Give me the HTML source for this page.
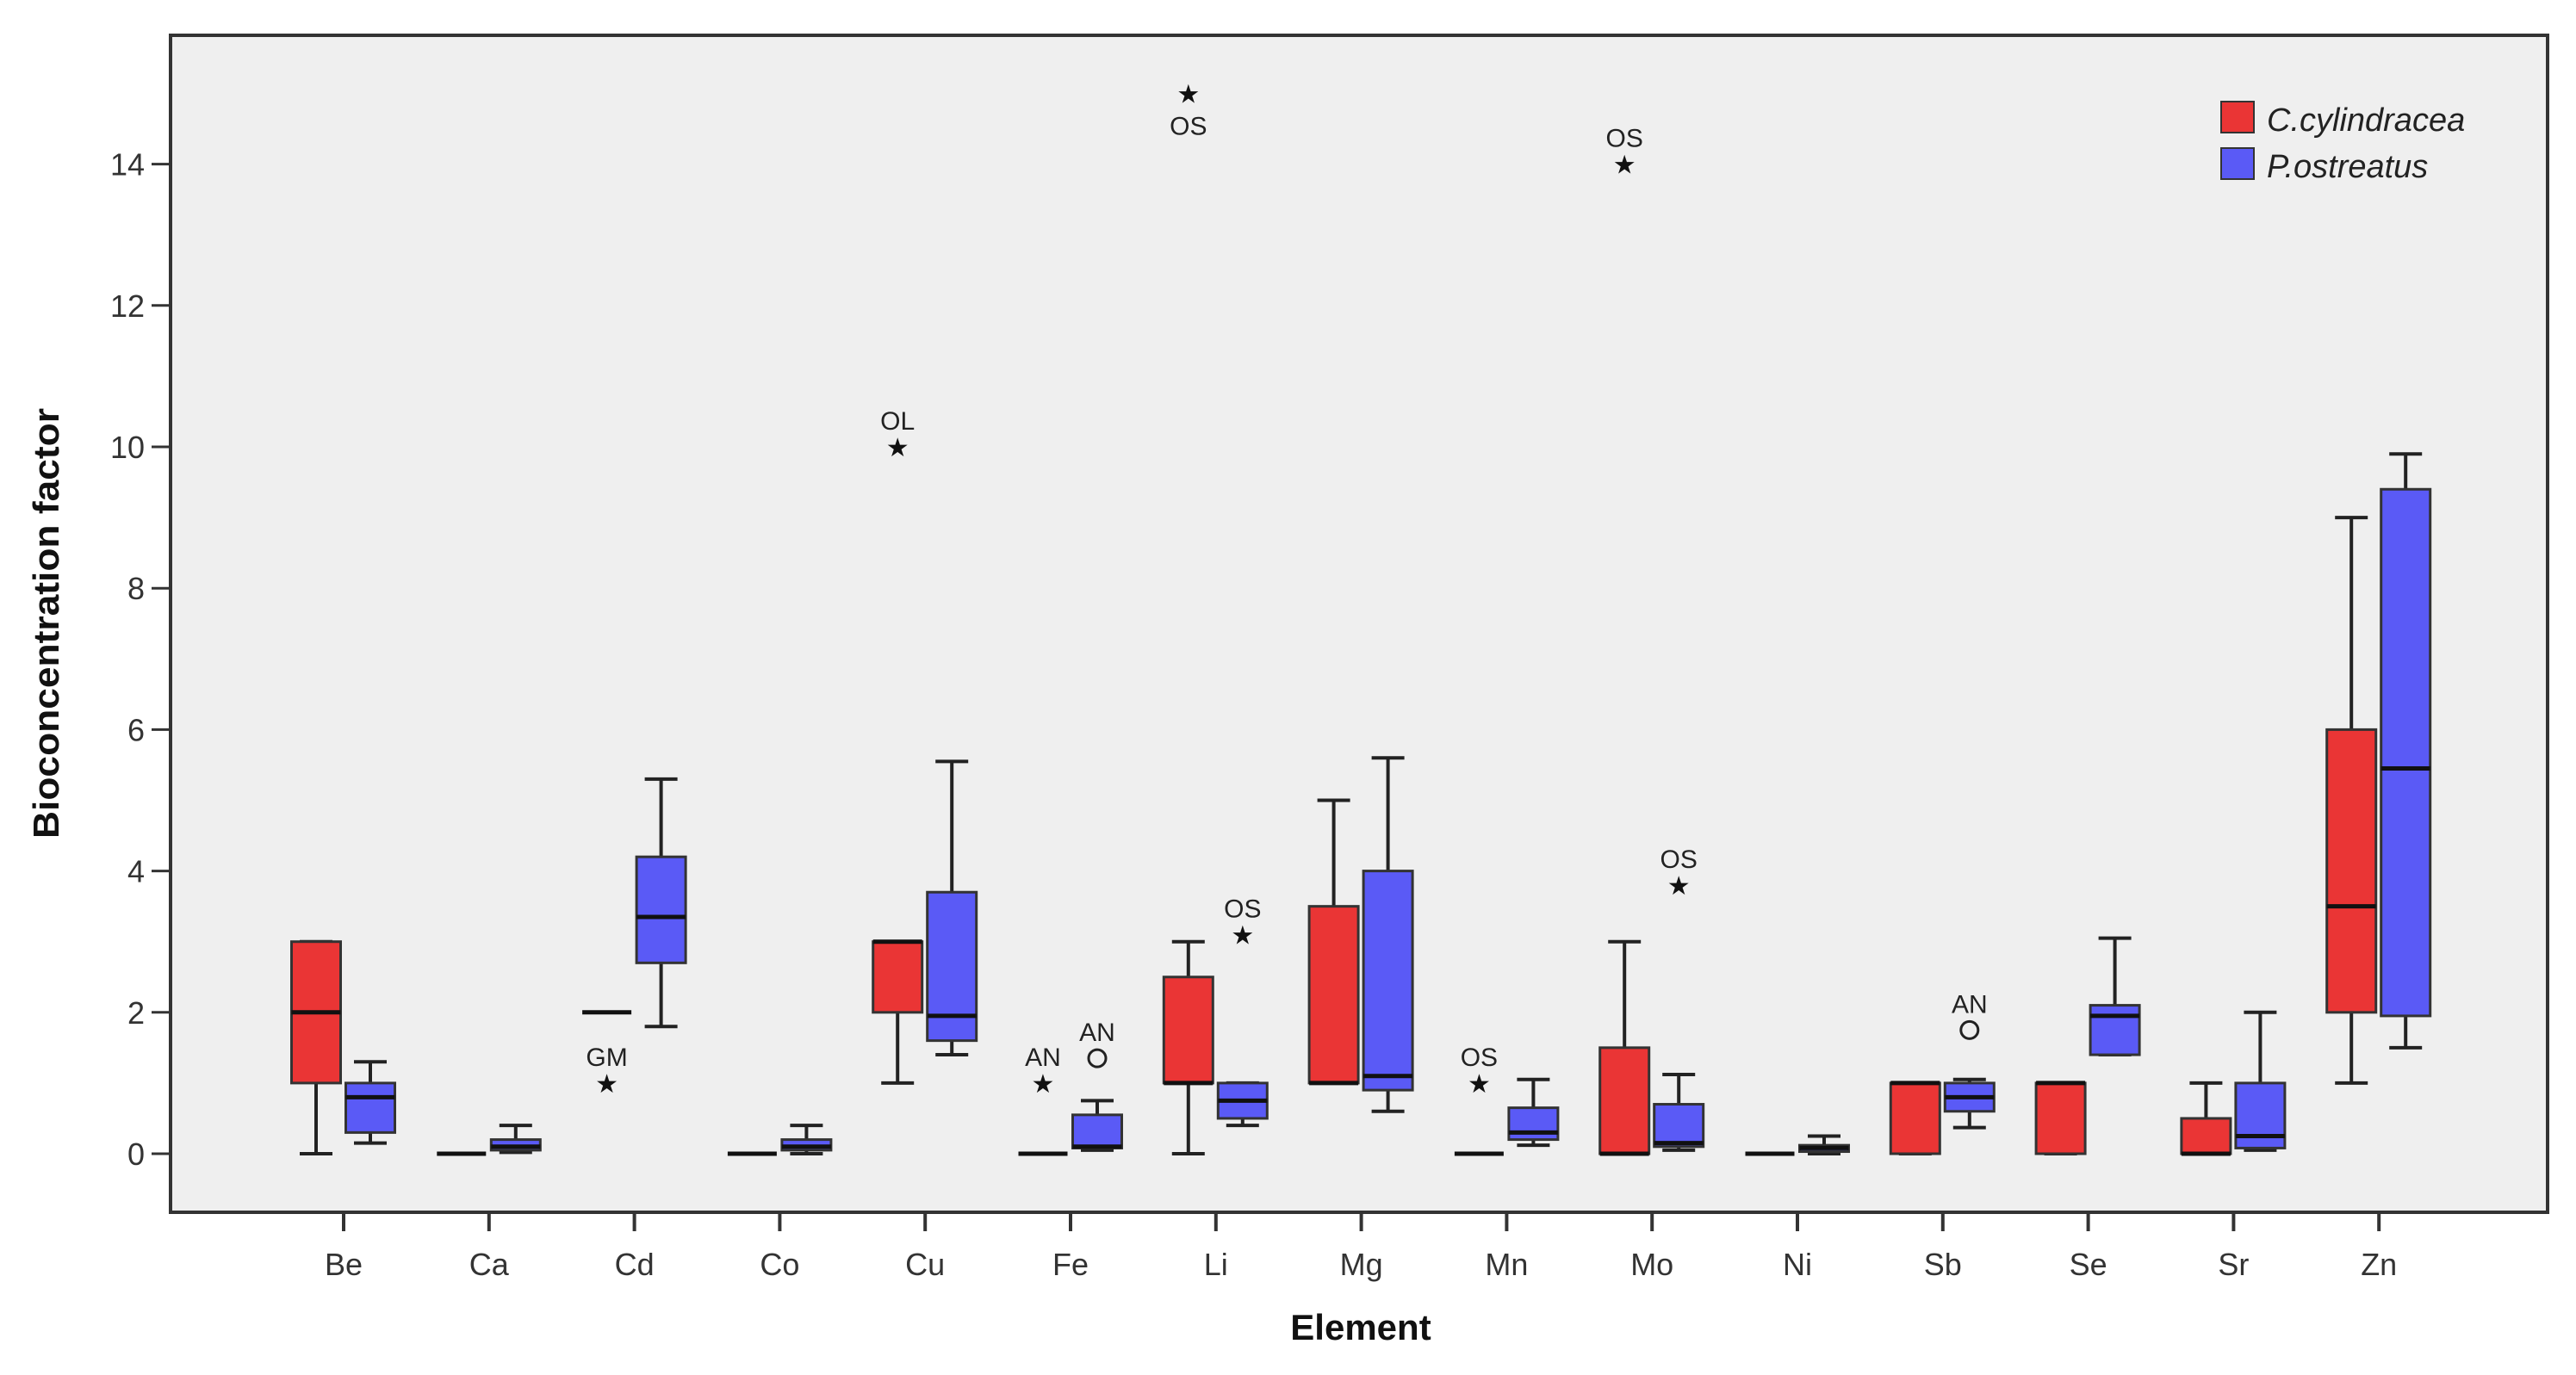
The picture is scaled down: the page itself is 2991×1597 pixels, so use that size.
<!DOCTYPE html>
<html><head><meta charset="utf-8"><style>
html,body{margin:0;padding:0;background:#fff;}
svg{display:block;font-family:"Liberation Sans",Arial,sans-serif;}
</style></head><body>
<svg id="chart" width="2991" height="1597" viewBox="0 0 2991 1597">
<rect x="198" y="41" width="2760" height="1367" fill="#efefef" stroke="#333" stroke-width="4"/>
<g id="yaxis"></g>
<g id="xaxis"></g>
<g id="boxes"></g>
<g id="outliers"></g>
<text x="68" y="724" transform="rotate(-90 68 724)" text-anchor="middle" font-size="42" font-weight="bold" fill="#111" textLength="500" lengthAdjust="spacingAndGlyphs">Bioconcentration factor</text>
<text x="1580" y="1556" text-anchor="middle" font-size="42" font-weight="bold" fill="#111">Element</text>
<g>
<rect x="2579" y="118" width="38" height="36" fill="#ea3535" stroke="#333" stroke-width="2"/>
<text x="2632" y="152" font-size="38" font-style="italic" fill="#222">C.cylindracea</text>
<rect x="2579" y="172" width="38" height="36" fill="#5a5af6" stroke="#333" stroke-width="2"/>
<text x="2632" y="206" font-size="38" font-style="italic" fill="#222">P.ostreatus</text>
</g>
</svg>
<script>
const categories=["Be","Ca","Cd","Co","Cu","Fe","Li","Mg","Mn","Mo","Ni","Sb","Se","Sr","Zn"];
// [min,q1,median,q3,max]
const redStats=[[0,1,2,3,3],[0,0,0,0,0],[2,2,2,2,2],[0,0,0,0,0],[1,2,3,3,3],[0,0,0,0,0],[0,1,1,2.5,3],[1,1,1,3.5,5],[0,0,0,0,0],[0,0,0,1.5,3],[0,0,0,0,0],[0,0,1,1,1],[0,0,1,1,1],[0,0,0,0.5,1],[1,2,3.5,6,9]];
const blueStats=[[0.15,0.3,0.8,1.0,1.3],[0.02,0.05,0.1,0.2,0.4],[1.8,2.7,3.35,4.2,5.3],[0,0.05,0.1,0.2,0.4],[1.4,1.6,1.95,3.7,5.55],[0.05,0.08,0.1,0.55,0.75],[0.4,0.5,0.75,1.0,1.0],[0.6,0.9,1.1,4.0,5.6],[0.12,0.2,0.3,0.65,1.05],[0.05,0.1,0.15,0.7,1.12],[0,0.03,0.08,0.12,0.25],[0.37,0.6,0.8,1.0,1.05],[1.4,1.4,1.95,2.1,3.05],[0.05,0.08,0.25,1.0,2.0],[1.5,1.95,5.45,9.4,9.9]];
// outliers: [categoryIndex, series(0 red,1 blue), value, marker, label, labelBelow]
const outlierCat=[2,4,5,5,6,6,8,9,9,11];
const outlierSeries=[0,0,0,1,0,1,0,0,1,1];
const outlierValues=[1,10,1,1.35,15,3.1,1,14,3.8,1.75];
const outlierMarks=["*","*","*","o","*","*","*","*","*","o"];
const outlierLabels=["GM","OL","AN","AN","OS","OS","OS","OS","OS","AN"];
const outlierBelow=[false,false,false,false,true,false,false,false,false,false];
const yTicks=[0,2,4,6,8,10,12,14];

const NS="http://www.w3.org/2000/svg";
const y=v=>1340-v*82.1;
const x=i=>399+i*168.8;
function mk(tag,attrs,parent){const e=document.createElementNS(NS,tag);for(const k in attrs)e.setAttribute(k,attrs[k]);parent.appendChild(e);return e;}
const ya=document.getElementById('yaxis'),xa=document.getElementById('xaxis'),bx=document.getElementById('boxes'),ol=document.getElementById('outliers');
yTicks.forEach(t=>{
 const l=mk('line',{x1:176,x2:198,y1:y(t),y2:y(t),stroke:'#333','stroke-width':3},ya);
 
 
 const tx=mk('text',{x:168,y:y(t)+13,'text-anchor':'end','font-size':36,fill:'#333'},ya);
 tx.textContent=t;
 
 
});
categories.forEach((c,i)=>{
 const l=mk('line',{x1:x(i),x2:x(i),y1:1408,y2:1430,stroke:'#333','stroke-width':4},xa);
 
 
 const tx=mk('text',{x:x(i),y:1481,'text-anchor':'middle','font-size':36,fill:'#333'},xa);
 tx.textContent=c;
 
 
});
function drawBox(cx,s,fill,name){
 const g=mk('g',{},bx);
 
 
 const w=57,x0=cx-w/2;
 mk('line',{x1:cx,x2:cx,y1:y(s[4]),y2:y(s[3]),stroke:'#222','stroke-width':4},g);
 mk('line',{x1:cx,x2:cx,y1:y(s[1]),y2:y(s[0]),stroke:'#222','stroke-width':4},g);
 mk('line',{x1:cx-19,x2:cx+19,y1:y(s[4]),y2:y(s[4]),stroke:'#222','stroke-width':4},g);
 mk('line',{x1:cx-19,x2:cx+19,y1:y(s[0]),y2:y(s[0]),stroke:'#222','stroke-width':4},g);
 if(s[3]>s[1]) mk('rect',{x:x0,y:y(s[3]),width:w,height:y(s[1])-y(s[3]),fill:fill,stroke:'#333','stroke-width':3},g);
 mk('line',{x1:x0,x2:x0+w,y1:y(s[2]),y2:y(s[2]),stroke:'#111','stroke-width':5},g);
}
categories.forEach((c,i)=>{
 drawBox(x(i)-32,redStats[i],'#ea3535','box-red-'+c.toLowerCase());
 drawBox(x(i)+31,blueStats[i],'#5a5af6','box-blue-'+c.toLowerCase());
});
outlierValues.forEach((v,k)=>{
 const cx=x(outlierCat[k])+(outlierSeries[k]?31:-32);
 const g=mk('g',{},ol);
 
 
 const yy=y(v);
 if(outlierMarks[k]==='*'){
  const t=mk('text',{x:cx,y:yy+22,'text-anchor':'middle','font-size':44,fill:'#111'},g);t.textContent='★';
  t.setAttribute('font-size','30');t.setAttribute('y',yy+11);
 } else {
  mk('circle',{cx:cx,cy:yy,r:10,fill:'none',stroke:'#222','stroke-width':3},g);
 }
 const lt=mk('text',{x:cx,y:outlierBelow[k]?yy+48:yy-20,'text-anchor':'middle','font-size':30,fill:'#222'},g);
 lt.textContent=outlierLabels[k];
});
</script>
</body></html>
